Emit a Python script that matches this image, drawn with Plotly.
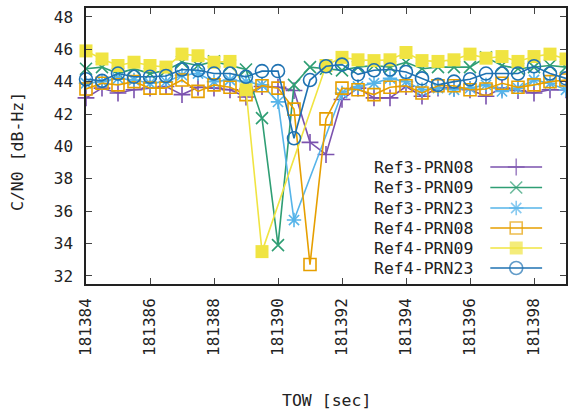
import plotly.graph_objects as go

t0 = 181384
tow = [t0 + 0.5 * i for i in range(31)]

ref3_prn08 = [43.0, 43.6, 43.3, 43.5, 43.6, 43.7, 43.2, 43.65, 43.6, 43.5, 43.05,
              43.7, 43.65, 43.45, 40.25, 39.5, 42.9, 43.6, 43.0, 43.0, 43.7,
              43.1, 43.6, 43.6, 43.5, 43.1, 43.6, 43.45, 43.3, 43.5, 43.5]
ref3_prn09 = [44.8, 44.9, 44.5, 44.8, 44.5, 44.7, 45.2, 45.0, 45.25, 45.0, 44.75,
              41.75, 33.9, 43.8, 44.9, 44.8, 44.7, 44.9, 45.0, 44.9, 45.2,
              44.8, 44.9, 44.9, 44.9, 45.5, 45.0, 44.8, 44.9, 45.0, 44.9]
ref3_prn23 = [43.9, 44.0, 44.2, 44.1, 43.9, 44.0, 44.4, 44.5, 44.0, 44.1, 44.0,
              43.8, 42.75, 35.45, None, None, 43.3, 43.7, 43.9, 44.2, 44.0,
              43.5, 43.6, 43.5, 43.6, 43.8, 43.4, 43.6, 44.1, 43.9, 43.5]
ref4_prn08 = [43.55, 43.9, 43.8, 44.0, 43.6, 43.6, 44.1, 43.4, 43.8, 43.65, 43.2,
              43.75, 43.6, 42.3, 32.7, 41.7, 43.6, 43.5, 43.2, 43.65, 43.75,
              43.3, 43.75, 43.75, 43.5, 43.55, 43.9, 43.65, 43.8, 44.0, 44.1]
ref4_prn09 = [45.9, 45.4, 45.0, 45.2, 45.0, 44.9, 45.7, 45.6, 45.2, 45.25, 43.5,
              33.5, None, None, None, 45.0, 45.5, 45.35, 45.3, 45.35, 45.8,
              45.3, 45.25, 45.35, 45.7, 45.45, 45.55, 45.25, 45.55, 45.7, 45.4]
ref4_prn23 = [44.15, 44.05, 44.5, 44.3, 44.3, 44.35, 44.75, 44.7, 44.5, 44.5, 44.3,
              44.65, 44.65, 40.5, 44.1, 44.95, 45.05, 44.45, 44.7, 44.75, 44.6,
              44.2, 43.8, 44.0, 44.15, 44.5, 44.5, 44.5, 44.95, 44.5, 44.2]

names = ["Ref3-PRN08", "Ref3-PRN09", "Ref3-PRN23", "Ref4-PRN08", "Ref4-PRN09", "Ref4-PRN23"]
series = [ref3_prn08, ref3_prn09, ref3_prn23, ref4_prn08, ref4_prn09, ref4_prn23]
colors = ["#7b52ae", "#2f9e74", "#56b4e9", "#e69f00", "#f0e442", "#1f72b2"]
symbols = ["cross-thin-open", "x-thin-open", "asterisk-open", "square-open", "square", "circle-open"]
sizes = [12, 12, 12, 12, 13, 13]

FONT = "DejaVu Sans Mono"
W, H = 568, 414
L, R, T, B = 86, 0, 8, 130
PW, PH = W - L - R, H - T - B

fig = go.Figure()


def mk(sym, col, size):
    if sym == "square":
        return dict(symbol=sym, size=size, color=col, line=dict(width=0))
    return dict(symbol=sym, size=size, color=col, line=dict(color=col, width=1.6))


for name, ys, col, sym, sz in zip(names, series, colors, symbols, sizes):
    xs = [x for x, y in zip(tow, ys) if y is not None]
    yv = [y for y in ys if y is not None]
    fig.add_trace(go.Scatter(x=xs, y=yv, mode="lines+markers", name=name,
                             line=dict(color=col, width=1.6),
                             marker=mk(sym, col, sz), cliponaxis=False,
                             showlegend=False))

# gnuplot-style key: text right-aligned, sample line with marker on the right
row_py = [167, 187.5, 208, 228, 248, 268]
x_text = (477 - L) / PW
x1, xm, x2 = (492 - L) / PW, (518 - L) / PW, (544 - L) / PW
for name, col, sym, sz, py in zip(names, colors, symbols, sizes, row_py):
    fy = (H - B - py) / PH
    m = mk(sym, col, sz)
    m["size"] = [0, sz, 0]
    fig.add_trace(go.Scatter(x=[x1, xm, x2], y=[fy, fy, fy], mode="lines+markers",
                             xaxis="x2", yaxis="y2", line=dict(color=col, width=1.6),
                             marker=m, showlegend=False, hoverinfo="skip"))
    fig.add_annotation(x=x_text, y=fy, xref="paper", yref="paper", text=name,
                       showarrow=False, xanchor="right", yanchor="middle",
                       font=dict(family=FONT, size=16.5, color="#222"))

axis_common = dict(showline=True, linecolor="#222", linewidth=1.5, mirror="allticks",
                   ticks="inside", ticklen=6, tickcolor="#444", tickwidth=1,
                   showgrid=False, zeroline=False,
                   tickfont=dict(family=FONT, size=16, color="#222"))

fig.update_layout(
    width=W, height=H, margin=dict(l=L, r=R, t=T, b=B),
    paper_bgcolor="white", plot_bgcolor="white", showlegend=False,
    xaxis=dict(range=[181384, 181399], tick0=181384, dtick=2, tickformat="d",
               tickangle=-90, ticklabelstandoff=6, **axis_common),
    yaxis=dict(range=[31.5, 48.55], tick0=32, dtick=2, ticklabelstandoff=8, **axis_common),
    xaxis2=dict(overlaying="x", range=[0, 1], visible=False, fixedrange=True),
    yaxis2=dict(overlaying="y", range=[0, 1], visible=False, fixedrange=True),
)

fig.add_annotation(x=0.5, y=0, xref="paper", yref="paper", text="TOW [sec]",
                   showarrow=False, xanchor="center", yanchor="middle", yshift=-(400 - (H - B)),
                   font=dict(family=FONT, size=16.5, color="#222"))
fig.add_annotation(x=0, y=0.5, xref="paper", yref="paper", text="C/N0 [dB-Hz]",
                   showarrow=False, xanchor="center", yanchor="middle", textangle=-90,
                   xshift=-(L - 17), yshift=-6,
                   font=dict(family=FONT, size=16.5, color="#222"))

fig.write_html("out.html")
